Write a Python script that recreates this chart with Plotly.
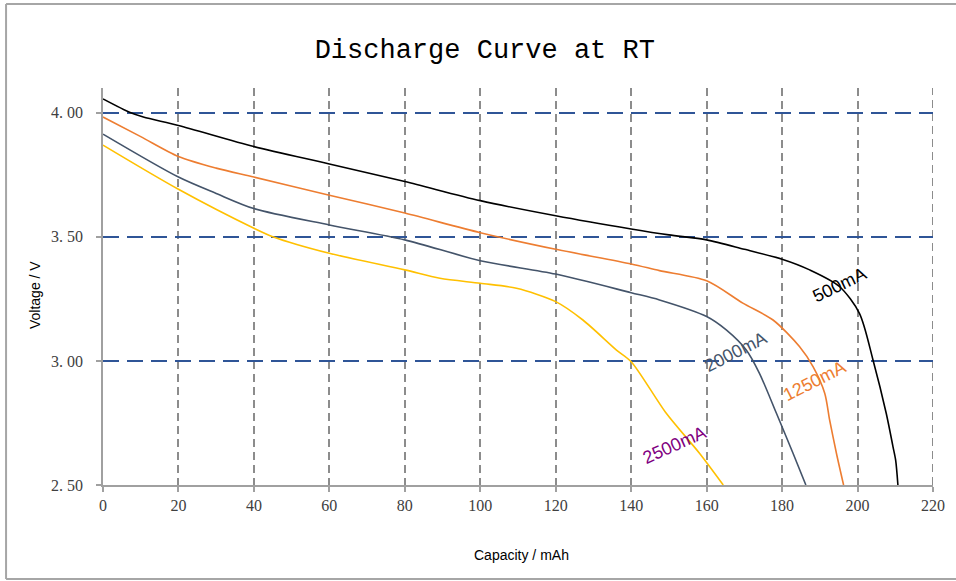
import plotly.graph_objects as go

# ---- data ----
cap_500 = [0, 7.2, 10.7, 20, 40, 60, 80, 100, 120, 140, 150, 160, 170, 180, 187.3, 195.2, 200.5, 204.1, 207.6, 209.4, 210.1, 210.7]
v_500 = [4.056, 4.001, 3.983, 3.949, 3.864, 3.794, 3.723, 3.646, 3.585, 3.532, 3.508, 3.488, 3.450, 3.410, 3.367, 3.300, 3.192, 3.004, 2.789, 2.654, 2.600, 2.500]

cap_1250 = [0, 10, 20, 30, 40, 60, 80, 100, 120, 140, 147.5, 160, 169.6, 177.6, 184.6, 188.2, 191.3, 192.6, 194.4, 196.3]
v_1250 = [3.983, 3.904, 3.824, 3.777, 3.741, 3.668, 3.596, 3.517, 3.450, 3.391, 3.364, 3.323, 3.233, 3.165, 3.058, 2.977, 2.870, 2.762, 2.628, 2.500]

cap_2000 = [0, 20, 30, 40, 60, 80, 100, 120, 140, 147.5, 160, 165.2, 170.5, 174.0, 178.5, 182.9, 186.3]
v_2000 = [3.914, 3.741, 3.675, 3.614, 3.548, 3.488, 3.404, 3.350, 3.275, 3.246, 3.179, 3.125, 3.044, 2.950, 2.789, 2.628, 2.500]

cap_2500 = [0, 20, 40, 45, 60, 80, 89.3, 100, 109.6, 120, 127.2, 136.1, 140, 149.3, 158.1, 164.4]
v_2500 = [3.870, 3.692, 3.535, 3.501, 3.434, 3.367, 3.333, 3.313, 3.293, 3.239, 3.165, 3.044, 2.997, 2.789, 2.628, 2.500]

series_names = ["500mA", "1250mA", "2000mA", "2500mA"]
series_colors = ["#000000", "#ED7D31", "#44546A", "#FFC000"]
label_colors = ["#000000", "#ED7D31", "#44546A", "#800080"]
label_pos = [(195.2, 3.306), (188.6, 2.919), (167.6, 3.037), (151.5, 2.661)]
label_angle = [-26, -27, -27, -24]

y_tickvals = [2.5, 3.0, 3.5, 4.0]
y_ticktext = ["2. 50", "3. 00", "3. 50", "4. 00"]
x_tickvals = [0, 20, 40, 60, 80, 100, 120, 140, 160, 180, 200, 220]
x_range = [0, 220]
y_range = [2.5, 4.1]

xs = [cap_500, cap_1250, cap_2000, cap_2500]
ys = [v_500, v_1250, v_2000, v_2500]

fig = go.Figure()
for name, col, x, y in zip(series_names, series_colors, xs, ys):
    fig.add_trace(go.Scatter(x=x, y=y, mode="lines", name=name,
                             line=dict(color=col, width=1.6, shape="spline", smoothing=0.8),
                             showlegend=False, hoverinfo="skip"))

for name, col, (lx, ly), ang in zip(series_names, label_colors, label_pos, label_angle):
    fig.add_annotation(x=lx, y=ly, xref="x", yref="y", text=name, showarrow=False,
                       textangle=ang, xanchor="center", yanchor="middle",
                       font=dict(family="Liberation Sans", size=18, color=col))

tick_font = dict(family="Liberation Serif", size=16, color="#404040")

fig.update_xaxes(range=x_range, tickvals=x_tickvals, ticks="outside", ticklen=5,
                 tickcolor="#A0A0A0", tickwidth=1.5, showline=True, linecolor="#A0A0A0",
                 linewidth=1.5, showgrid=True, gridcolor="#8C8C8C", gridwidth=2,
                 griddash="8px,5px", zeroline=False, tickfont=tick_font)
fig.update_yaxes(range=y_range, tickvals=y_tickvals, ticktext=y_ticktext,
                 ticks="outside", ticklen=5, tickcolor="#A0A0A0", tickwidth=1.5,
                 showline=True, linecolor="#A0A0A0", linewidth=1.5, showgrid=True,
                 gridcolor="#2F5597", gridwidth=2, griddash="16px,8px", zeroline=False,
                 tickfont=tick_font, ticklabelstandoff=10)

# last vertical grid line at the right edge (plotly hides the one on the edge)
fig.add_shape(type="line", xref="x", yref="y", x0=x_range[1], x1=x_range[1],
              y0=y_range[0], y1=y_range[1], layer="below",
              line=dict(color="#8C8C8C", width=2, dash="8px,5px"))

# axis titles
fig.add_annotation(x=-0.0819, y=0.4786, xref="paper", yref="paper", text="Voltage / V",
                   showarrow=False, textangle=-90, xanchor="center", yanchor="middle",
                   font=dict(family="Liberation Sans", size=14, color="#000000"))
fig.add_annotation(x=0.5045, y=-0.1763, xref="paper", yref="paper", text="Capacity / mAh",
                   showarrow=False, xanchor="center", yanchor="middle",
                   font=dict(family="Liberation Sans", size=14, color="#000000"))

# outer frame
frame = dict(type="line", xref="paper", yref="paper", line=dict(color="#A6A6A6", width=2))
fig.add_shape(x0=-0.1168, x1=-0.1168, y0=-0.2368, y1=1.2116, **frame)
fig.add_shape(x0=-0.1168, x1=1.03, y0=1.2116, y1=1.2116, **frame)
fig.add_shape(x0=-0.1168, x1=1.03, y0=-0.2368, y1=-0.2368, **frame)

fig.update_layout(
    width=956, height=581,
    margin=dict(l=103, r=22.5, t=88, b=96),
    paper_bgcolor="white", plot_bgcolor="white",
    title=dict(text="Discharge Curve at RT", x=0.46, xref="paper", xanchor="center",
               y=0.917, yref="container", yanchor="middle",
               font=dict(family="Liberation Mono", size=27, color="#000000")),
)

fig.write_html("out.html")
